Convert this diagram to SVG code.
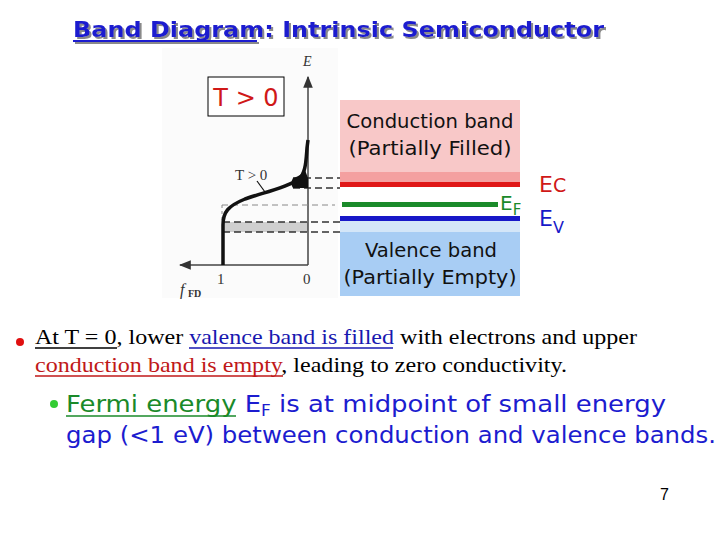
<svg xmlns="http://www.w3.org/2000/svg" width="720" height="540" viewBox="0 0 720 540">
<defs>
<style>
.ttl{font-family:"DejaVu Sans",sans-serif;font-weight:bold;font-size:22px;fill:#1c1ccf}
.band{font-family:"DejaVu Sans",sans-serif;font-size:19px;fill:#111}
.ser{font-family:"Liberation Serif",serif;font-size:21px;fill:#000}
.b2{font-family:"DejaVu Sans",sans-serif;font-size:23px;fill:#1c1ccf}
.ax{stroke:#444;stroke-width:1.5;fill:none}
.dash{stroke:#333;stroke-width:1.5;stroke-dasharray:7 4;fill:none}
.fig{font-family:"Liberation Serif",serif;fill:#333}
</style>
<filter id="shadow" x="-5%" y="-30%" width="110%" height="160%">
<feDropShadow dx="2" dy="2" stdDeviation="0.6" flood-color="#8a8a8a" flood-opacity="1"/>
</filter>
<marker id="ah" viewBox="0 0 10 10" refX="9" refY="5" markerWidth="8" markerHeight="8" orient="auto-start-reverse"><path d="M0,1 L10,5 L0,9 z" fill="#333"/></marker>
</defs>
<rect width="720" height="540" fill="#fff"/>
<g id="title" filter="url(#shadow)">
<text class="ttl" x="73" y="37" textLength="531" lengthAdjust="spacingAndGlyphs">Band Diagram: Intrinsic Semiconductor</text>
<line x1="73" y1="41" x2="257" y2="41" stroke="#1c1ccf" stroke-width="2"/>
</g>
<g id="fd-plot">
<rect x="162" y="48" width="176" height="250" fill="#fbfbfb"/>
<rect x="223" y="222" width="85" height="10" fill="#cfcfcf"/>
<line class="ax" x1="308" y1="265" x2="308" y2="77" marker-end="url(#ah)"/>
<line class="ax" x1="308" y1="265" x2="180" y2="265" marker-end="url(#ah)"/>
<line class="dash" x1="293" y1="178" x2="340" y2="178"/>
<line class="dash" x1="293" y1="188" x2="340" y2="188"/>
<line x1="222" y1="205" x2="335" y2="205" stroke="#888" stroke-width="1" stroke-dasharray="6 4"/>
<line x1="222" y1="205" x2="222" y2="222" stroke="#888" stroke-width="1" stroke-dasharray="3 3"/>
<line class="dash" x1="223" y1="222" x2="340" y2="222"/>
<line class="dash" x1="223" y1="232" x2="340" y2="232"/>
<path d="M293,178 Q301,176 305,170 L308,178 L308,188 L293,188 Q290,183 293,178 z" fill="#111"/>
<path d="M223,265 L223,225 C223,212 228,206 245,199 C262,193 285,188 298,180 C306,174 306,160 307,148 L308,140" fill="none" stroke="#111" stroke-width="3.5"/>
<line x1="257" y1="181" x2="265" y2="192" stroke="#111" stroke-width="1.2"/>
<text class="fig" x="235" y="180" font-size="15">T &gt; 0</text>
<text class="fig" x="303" y="66" font-size="14" font-style="italic">E</text>
<text class="fig" x="217" y="284" font-size="15">1</text>
<text class="fig" x="303" y="284" font-size="15">0</text>
<text class="fig" x="180" y="295" font-size="16" font-style="italic">f</text>
<text class="fig" x="188" y="297" font-size="10" font-weight="bold">FD</text>
</g>
<g id="t-box">
<rect x="208" y="77" width="76" height="39" fill="#fff" stroke="#000" stroke-width="1"/>
<text x="246" y="106" font-family="DejaVu Sans,sans-serif" font-size="24" fill="#d01818" text-anchor="middle">T &gt; 0</text>
</g>
<g id="band-diagram">
<rect x="340" y="100" width="180" height="72" fill="#f8c8c8"/>
<rect x="340" y="172" width="180" height="10" fill="#f4a0a0"/>
<rect x="340" y="182" width="180" height="5" fill="#e01818"/>
<rect x="342" y="202" width="156" height="5" fill="#1a8a2a"/>
<rect x="340" y="216" width="180" height="5" fill="#1818c8"/>
<rect x="340" y="221" width="180" height="11" fill="#d4e6f8"/>
<rect x="340" y="232" width="180" height="64" fill="#a8cdf4"/>
<text class="band" x="430" y="128" text-anchor="middle" textLength="167" lengthAdjust="spacingAndGlyphs">Conduction band</text>
<text class="band" x="430" y="155" text-anchor="middle" textLength="163" lengthAdjust="spacingAndGlyphs">(Partially Filled)</text>
<text class="band" x="431" y="257" text-anchor="middle" textLength="132" lengthAdjust="spacingAndGlyphs">Valence band</text>
<text class="band" x="430" y="284" text-anchor="middle" textLength="173" lengthAdjust="spacingAndGlyphs">(Partially Empty)</text>
<text x="500" y="210" font-family="DejaVu Sans,sans-serif" font-size="20" fill="#1a8a2a">E<tspan font-size="15" dy="5">F</tspan></text>
<text x="539" y="192" font-family="DejaVu Sans,sans-serif" font-size="22" fill="#d01818">E<tspan font-size="19">C</tspan></text>
<text x="539" y="226" font-family="DejaVu Sans,sans-serif" font-size="22" fill="#1818c8">E<tspan font-size="16" dy="7">V</tspan></text>
</g>
<g id="bullet1">
<circle cx="20" cy="342" r="4" fill="#e01010"/>
<text class="ser" x="35" y="344" textLength="602" lengthAdjust="spacingAndGlyphs">At T = 0, lower <tspan fill="#1818b0">valence band is filled</tspan> with electrons and upper</text>
<line x1="35" y1="348" x2="117" y2="348" stroke="#000" stroke-width="1.5"/>
<line x1="189" y1="348" x2="393" y2="348" stroke="#1818b0" stroke-width="1.5"/>
<text class="ser" x="35" y="372" textLength="532" lengthAdjust="spacingAndGlyphs"><tspan fill="#c01818">conduction band is empty</tspan>, leading to zero conductivity.</text>
<line x1="35" y1="376" x2="283" y2="376" stroke="#c01818" stroke-width="1.5"/>
</g>
<g id="bullet2">
<circle cx="54" cy="404" r="4" fill="#33cc33"/>
<text class="b2" x="66" y="412" textLength="600" lengthAdjust="spacingAndGlyphs"><tspan fill="#1a8a2a">Fermi energy</tspan> E<tspan font-size="15" dy="4">F</tspan><tspan dy="-4"> is at midpoint of small energy</tspan></text>
<line x1="66" y1="416" x2="236" y2="416" stroke="#1a8a2a" stroke-width="1.5"/>
<text class="b2" x="66" y="443" textLength="650" lengthAdjust="spacingAndGlyphs">gap (&lt;1 eV) between conduction and valence bands.</text>
</g>
<text x="660" y="500" font-family="Liberation Sans,sans-serif" font-size="16" fill="#000">7</text>
</svg>
